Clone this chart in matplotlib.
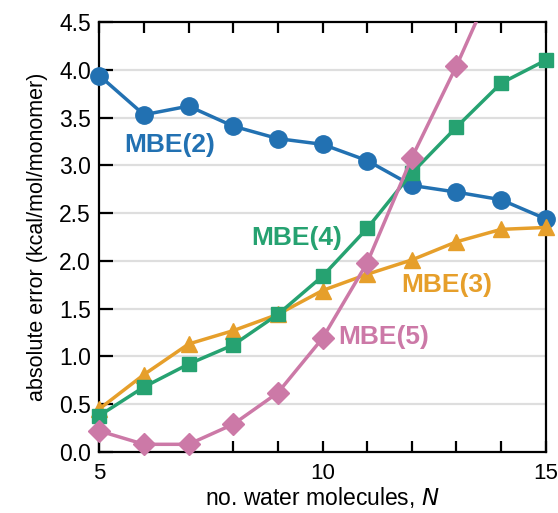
import matplotlib.pyplot as plt
import numpy as np
from matplotlib.ticker import MultipleLocator

plt.rcParams['font.family'] = ['Liberation Sans', 'DejaVu Sans']

# data
n_water = [5, 6, 7, 8, 9, 10, 11, 12, 13, 14, 15]
mbe2 = [3.94, 3.53, 3.62, 3.41, 3.28, 3.22, 3.05, 2.79, 2.72, 2.64, 2.44]
mbe3 = [0.45, 0.81, 1.13, 1.27, 1.44, 1.69, 1.86, 2.01, 2.20, 2.33, 2.35]
mbe4 = [0.38, 0.68, 0.92, 1.12, 1.44, 1.84, 2.34, 2.92, 3.40, 3.86, 4.10]
mbe5 = [0.22, 0.08, 0.08, 0.29, 0.62, 1.19, 1.98, 3.08, 4.04, 5.09, 6.20]

blue = '#2271b2'
orange = '#e69f2b'
green = '#26a271'
pink = '#cc79a7'

fig = plt.figure(figsize=(5.58, 5.13), dpi=100)
ax = fig.add_axes([0.178, 0.119, 0.800, 0.838])

for y in np.arange(0.5, 4.5, 0.5):
    ax.axhline(y, color='#dedede', lw=1.6, zorder=0)

lw = 2.5
ax.plot(n_water, mbe2, '-o', color=blue, lw=lw, ms=12.5, clip_on=False, zorder=3)
ax.plot(n_water, mbe3, '-^', color=orange, lw=lw, ms=12, clip_on=False, zorder=3)
ax.plot(n_water, mbe4, '-s', color=green, lw=lw, ms=10.5, clip_on=False, zorder=3)

# the MBE(5) line runs off the top, so clip the line but not the visible markers
ax.plot(n_water, mbe5, '-', color=pink, lw=lw, zorder=3)
x5 = [x for x, y in zip(n_water, mbe5) if y <= 4.5]
y5 = [y for y in mbe5 if y <= 4.5]
ax.plot(x5, y5, 'D', color=pink, ms=11, clip_on=False, zorder=3)

lab = dict(fontsize=19, fontweight='bold', ha='center', va='center')
ax.text(6.58, 3.21, 'MBE(2)', color=blue, **lab)
ax.text(9.42, 2.24, 'MBE(4)', color=green, **lab)
ax.text(12.79, 1.75, 'MBE(3)', color=orange, **lab)
ax.text(11.38, 1.20, 'MBE(5)', color=pink, **lab)

ax.set_xlim(5, 15)
ax.set_ylim(0, 4.5)
ax.xaxis.set_major_locator(MultipleLocator(5))
ax.xaxis.set_minor_locator(MultipleLocator(1))
ax.yaxis.set_major_locator(MultipleLocator(0.5))
ax.yaxis.set_major_formatter(plt.FormatStrFormatter('%.1f'))
ax.tick_params(axis='x', which='both', direction='in', top=True, bottom=True,
               length=8, width=1.6, labelsize=16, pad=8)
ax.tick_params(axis='y', direction='in', left=True, right=False,
               length=10, width=1.6, labelsize=16.5, pad=6)
for s in ax.spines.values():
    s.set_linewidth(1.6)

ax.set_xlabel('no. water molecules, $\\it{N}$', fontsize=16.5, labelpad=1)
ax.set_ylabel('absolute error (kcal/mol/monomer)', fontsize=15.5, labelpad=8)

fig.savefig('out.png', dpi=100)
